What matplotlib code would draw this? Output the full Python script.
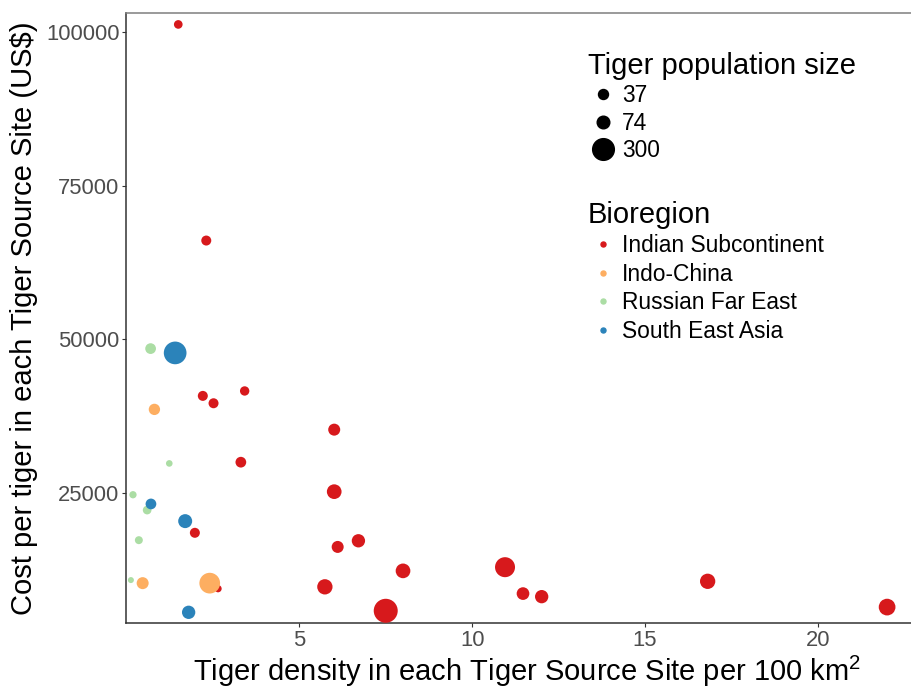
import matplotlib
matplotlib.use("Agg")
import matplotlib.pyplot as plt
from matplotlib.lines import Line2D
import numpy as np

plt.rcParams['font.family'] = ['Liberation Sans', 'DejaVu Sans']
plt.rcParams['mathtext.fontset'] = 'custom'
plt.rcParams['mathtext.rm'] = 'Liberation Sans'

# tiger source sites: density per 100 km2, cost per tiger (US$), population
ind_density = [1.50, 2.31, 2.21, 2.52, 3.42, 6.01, 3.31, 6.01, 1.98, 6.11,
               6.71, 2.65, 5.74, 8.00, 7.50, 10.95, 11.47, 12.01, 16.81, 22.0]
ind_cost = [101300, 66100, 40800, 39600, 41600, 35300, 30000, 25200, 18500, 16200,
            17200, 9400, 9700, 12300, 5800, 12900, 8600, 8100, 10600, 6400]
ind_pop = [23, 37, 37, 37, 30, 64, 46, 112, 37, 64,
           86, 12, 125, 112, 381, 246, 75, 86, 125, 157]

ic_density = [0.81, 0.47, 2.41]
ic_cost = [38600, 10300, 10300]
ic_pop = [54, 64, 268]

rfe_density = [0.70, 1.24, 0.19, 0.60, 0.36, 0.13]
rfe_cost = [48500, 29800, 24700, 22200, 17300, 10800]
rfe_pop = [46, 8, 12, 23, 17, 5]

sea_density = [1.41, 0.71, 1.70, 1.80]
sea_cost = [47800, 23200, 20400, 5550]
sea_pop = [334, 46, 98, 86]

regions = ['Indian Subcontinent', 'Indo-China', 'Russian Far East', 'South East Asia']
colors = ['#D7191C', '#FDAE61', '#ABDDA4', '#2B83BA']
size_breaks = [37, 74, 300]


def marker_pt(pop):
    # diameter in points, area-style scaling like ggplot's scale_size
    return (3.67 + 1.041 * np.sqrt(np.asarray(pop, dtype=float))) * 0.72


fig = plt.figure(figsize=(9.12, 6.91), dpi=100)
ax = fig.add_axes([126.4 / 912, 1 - 623.3 / 691, 1 - 126.4 / 912, (623.3 - 12.7) / 691])

groups = [(ind_density, ind_cost, ind_pop),
          (ic_density, ic_cost, ic_pop),
          (rfe_density, rfe_cost, rfe_pop),
          (sea_density, sea_cost, sea_pop)]
for (xs, ys, ps), col in zip(groups, colors):
    ax.scatter(xs, ys, s=marker_pt(ps) ** 2, color=col, edgecolors='none', zorder=3)

ax.set_xlim(0, 22.72)
ax.set_ylim(3760, 103210)
ax.set_xticks([5, 10, 15, 20])
ax.set_yticks([25000, 50000, 75000, 100000])
ax.tick_params(axis='both', length=3, width=0.8, color='#333333',
               labelsize=15.8, labelcolor='#4D4D4D', pad=2)

for side in ['left', 'bottom']:
    ax.spines[side].set_color('#333333')
    ax.spines[side].set_linewidth(1.1)
ax.spines['top'].set_color('#7F7F7F')
ax.spines['top'].set_linewidth(1.1)
ax.spines['right'].set_visible(False)

ax.set_xlabel('Tiger density in each Tiger Source Site per 100 km$^2$', fontsize=21, labelpad=2)
ax.xaxis.label.set_x(0.51)
ax.set_ylabel('Cost per tiger in each Tiger Source Site (US$)', fontsize=21, labelpad=6)

# size legend
size_handles = [Line2D([], [], linestyle='none', marker='o', color='black',
                       markersize=float(marker_pt(b))) for b in size_breaks]
leg1 = ax.legend(size_handles, [str(b) for b in size_breaks], title='Tiger population size',
                 loc='upper left', bbox_to_anchor=(588 / 912, 1 - 52 / 691),
                 bbox_transform=fig.transFigure, frameon=False, fontsize=16.4,
                 title_fontsize=21, alignment='left', borderpad=0, borderaxespad=0,
                 handlelength=1.3, handletextpad=0.2, labelspacing=0.19)
ax.add_artist(leg1)

# colour legend
col_handles = [Line2D([], [], linestyle='none', marker='o', color=c, markersize=3.6)
               for c in colors]
ax.legend(col_handles, regions, title='Bioregion',
          loc='upper left', bbox_to_anchor=(588 / 912, 1 - 201 / 691),
          bbox_transform=fig.transFigure, frameon=False, fontsize=16.4,
          title_fontsize=21, alignment='left', borderpad=0, borderaxespad=0,
          handlelength=1.3, handletextpad=0.2, labelspacing=0.24)

fig.savefig('out.png', dpi=100)
